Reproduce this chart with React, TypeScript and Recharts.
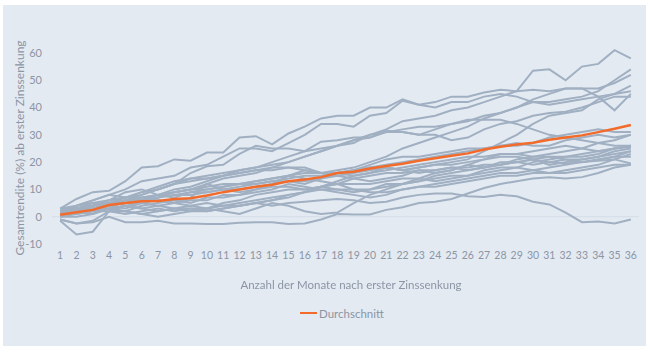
import React from "react";
import { LineChart, Line, XAxis, YAxis, ReferenceLine } from "recharts";

// Monate nach erster Zinssenkung
const monate = [1, 2, 3, 4, 5, 6, 7, 8, 9, 10, 11, 12, 13, 14, 15, 16, 17, 18, 19, 20, 21, 22, 23, 24, 25, 26, 27, 28, 29, 30, 31, 32, 33, 34, 35, 36];
const yTicks = [-10, 0, 10, 20, 30, 40, 50, 60];

const durchschnitt = [0.7, 1.6, 2.5, 4.3, 5, 5.7, 5.8, 6.5, 6.8, 7.8, 9, 10, 11, 11.7, 13, 13.6, 14.5, 16, 16.5, 17.7, 18.6, 19.4, 20.5, 21.4, 22.3, 23.2, 24.6, 25.6, 26.5, 27.1, 28.2, 29, 29.8, 31, 32.2, 33.6];

// einzelne Zinssenkungszyklen
const z01 = [3, 6.5, 9, 9.5, 13, 18, 18.5, 21, 20.5, 23.5, 23.5, 29, 29.5, 26.5, 30.5, 33, 36, 37, 37, 40, 40, 43, 41, 42, 44, 44, 45.5, 46.5, 46, 46.5, 46, 47, 47, 44, 39, 45];
const z02 = [1, 2, 3, 5, 7, 8, 10, 12, 14, 15, 16, 17, 18, 20, 22, 24, 25, 26, 27, 30, 32, 35, 36, 37, 39, 40, 42, 44, 46, 53.5, 54, 50, 55, 56, 61, 58];
const z03 = [2, 4, 6, 8, 10, 13, 14, 15, 18, 19, 22, 25, 25, 24, 27, 30, 34, 34, 33, 37, 38, 42.5, 41, 40, 42, 42, 44, 45, 44, 42, 42, 43, 44, 46, 50, 54];
const z04 = [1, 3, 4, 6, 7, 9, 10, 12, 13, 14, 15, 17, 18, 19, 20, 22, 24, 26, 28, 29, 31, 32, 33, 33, 34, 35, 37, 38, 40, 43, 45, 47, 47, 47, 49, 52];
const z05 = [0, 2, 3, 4, 5, 5, 7, 8, 8, 9, 10, 10, 11, 12, 13, 13, 14, 15, 16, 17, 18, 17, 18, 19, 20, 21, 24, 27, 30, 34, 37, 38, 39, 43, 45, 48];
const z06 = [2, 3, 4, 5, 6, 8, 10, 12, 16, 18.5, 19, 23, 26, 25, 25, 24, 27.5, 28, 29, 29, 31.5, 31, 30, 30, 28, 29, 32, 34, 35, 37, 38, 38.5, 40, 42, 44, 44];
const z07 = [1, 2, 3, 4, 5, 6, 7, 9, 10, 12, 14, 15, 16, 18, 20, 22, 24, 26, 28, 30, 31, 31, 30, 32, 34, 35.5, 35.5, 35.5, 34, 32, 30, 29, 28, 27, 26, 26];
const z08 = [2, 3, 5, 6, 7, 7, 8, 9, 10, 11, 12, 12, 13, 14, 15, 16, 16, 16, 17, 18, 19, 20, 21, 22, 23, 24, 25, 26, 26, 27, 29, 30, 31, 32, 31, 31];
const z09 = [0, 1, 2, 4, 5, 6, 8, 9, 10, 10, 11, 12, 12, 13, 14, 15, 15, 16, 15, 16, 17, 18, 19, 20, 21, 22, 22, 23, 23, 22, 23, 24, 25, 27, 28, 30];
const z10 = [3, 3, 2, 3, 4, 3, 4, 5, 6, 6, 8, 8, 9, 10, 12, 11, 10, 10, 9, 10, 12, 12, 13, 14, 15, 15, 17, 18, 18, 20, 21, 22, 22, 23, 25, 26];
const z11 = [1, 2, 1, 3, 2, 4, 5, 6, 5, 7, 7, 8, 10, 11, 11, 10, 11, 12, 14, 15, 16, 16, 17, 17, 18, 18, 19, 19, 20, 21, 22, 22, 23, 24, 25, 25.5];
const z12 = [2, 1, 3, 4, 6, 7, 6, 5, 7, 12, 10, 9, 10, 12, 15, 17, 16, 15, 14, 13, 14, 15, 17, 16, 17, 19, 18, 20, 20, 21, 20, 21, 21, 22, 23, 24];
const z13 = [0, 0, 1, 3, 4, 3, 2, 3, 4, 5, 4, 5, 6, 7, 8, 9, 10, 9, 8, 7, 8, 10, 11, 12, 13, 14, 15, 16, 16, 17, 18, 19, 20, 21, 22, 22];
const z14 = [-1, -2.5, -1.5, 2, 1, 2, 3, 2, 3, 2, 3, 4, 5, 6, 8, 9, 11, 13, 15, 16, 18, 17, 16, 17, 18, 17, 18, 19, 20, 19, 20, 19.5, 20, 20.5, 21, 19.5];
const z15 = [-1.5, -6.5, -5.5, 2, 4, 5, 4, 3, 2, 2, 3, 4, 5, 6, 7, 9, 11, 12, 12, 12, 13, 14, 14, 13, 14, 15, 16, 17, 18, 17, 16, 16, 17, 18, 19, 19];
const z16 = [1, 4, 5, 4, 3, 5, 6, 5, 4, 3, 2, 1, 3, 5, 4, 2, 1, 1.5, 5, 8, 10, 12, 14, 16, 17, 19, 21, 22, 22, 21, 19, 20, 21, 22, 24, 25];
const z17 = [2, 3, 4, 6, 9, 10, 8, 7, 9, 10, 11, 12, 13, 14, 15, 14, 13, 12, 10, 9, 9, 10, 11, 11, 12, 13, 14, 15, 15, 16, 16, 17, 18, 19, 21, 23];
const z18 = [3, 3, 3, 3, 2, 1, 0, 1, 2, 3, 5, 6, 8, 9, 10, 10, 11, 10, 10, 10, 11, 12, 13, 15, 16, 17, 18, 19, 21, 22, 22, 21, 20, 21, 22, 24];
const z19 = [-1, -2.5, -2, 0, -2, -2, -1.5, -2.5, -2.5, -2.7, -2.7, -2.2, -2, -2, -2.7, -2.5, -1, 1, 0.8, 0.8, 2.5, 3.5, 5, 5.5, 6.5, 8.5, 10.5, 12, 13, 14, 14.5, 14, 14.5, 16, 18, 19];
const z20 = [1, 1, 2, 2, 2, 1, 2, 3, 3, 3, 4, 4, 5, 4, 5, 5.5, 6, 6.5, 6, 5, 5.5, 7, 8, 8.5, 8.5, 7.5, 7.2, 8, 7.5, 5.5, 4.5, 1.5, -2, -1.8, -2.5, -1];
const z21 = [3, 4, 6, 8, 7, 9, 11, 13, 14, 14, 15, 16, 17, 17, 18, 18, 16, 16, 17, 19, 21, 22, 22, 23, 24, 25, 25, 26, 27, 26, 26, 28, 29, 30, 29, 30];
const z22 = [0.5, 2, 4, 5, 6, 6, 7, 8, 9, 9, 10, 11, 12, 13, 13, 12, 14, 16, 17, 18, 18, 17, 18, 19, 19, 20, 21, 23, 23, 24, 25, 26, 25, 24, 25, 26];
const z23 = [2, 2, 3, 4, 5, 7, 8, 10, 11, 13, 15, 16, 17, 18, 18, 17, 16, 17, 18, 20, 22, 25, 27, 29, 31, 33, 36, 38, 40, 42, 41, 42, 43, 44, 45, 46];

const zyklen = [z01, z02, z03, z04, z05, z06, z07, z08, z09, z10, z11, z12, z13, z14, z15, z16, z17, z18, z19, z20, z21, z22, z23];

const chartData = monate.map((m, i) => {
  const row: Record<string, number> = { monat: m, avg: durchschnitt[i] };
  zyklen.forEach((z, k) => {
    row[`z${k}`] = z[i];
  });
  return row;
});

const GRAY = "#a0b0c2";
const ORANGE = "#f26b2b";
const TEXT = "#8b95a4";
const FONT = "Lato, 'Noto Sans', sans-serif";

export default function App() {
  return (
    <div style={{ position: "fixed", left: 0, top: 0, width: 650, height: 352, background: "#fff", fontFamily: FONT }}>
      <div style={{ position: "absolute", left: 3, top: 5, width: 643, height: 341, background: "#e4eaf2" }} />
      <LineChart
        width={650}
        height={352}
        data={chartData}
        margin={{ top: 47.5, right: 11, bottom: 78, left: 0 }}
        style={{ position: "absolute", left: 0, top: 0 }}
      >
        <XAxis
          dataKey="monat"
          type="number"
          domain={[0.5, 36.5]}
          ticks={monate}
          interval={0}
          height={30}
          axisLine={false}
          tickLine={false}
          tick={{ fontSize: 10.5, fill: TEXT, fontFamily: FONT }}
        />
        <YAxis
          type="number"
          domain={[-10, 62]}
          ticks={yTicks}
          width={52}
          axisLine={false}
          tickLine={false}
          tickMargin={4}
          allowDataOverflow
          tick={{ fontSize: 11, fill: TEXT, fontFamily: FONT }}
        />
        <ReferenceLine y={0} stroke="#d3dce7" strokeWidth={1} />
        {zyklen.map((_, k) => (
          <Line
            key={k}
            dataKey={`z${k}`}
            type="linear"
            stroke={GRAY}
            strokeWidth={2}
            dot={false}
            activeDot={false}
            isAnimationActive={false}
          />
        ))}
        <Line dataKey="avg" name="Durchschnitt" type="linear" stroke={ORANGE} strokeWidth={2.5} dot={false} isAnimationActive={false} />
      </LineChart>
      <div
        style={{
          position: "absolute",
          left: 20 - 130,
          top: 148 - 8,
          width: 260,
          height: 16,
          lineHeight: "16px",
          textAlign: "center",
          transform: "rotate(-90deg)",
          fontSize: 12,
          color: TEXT,
        }}
      >
        Gesamtrendite (%) ab erster Zinssenkung
      </div>
      <div style={{ position: "absolute", left: 0, width: 702, top: 277, lineHeight: "16px", textAlign: "center", fontSize: 11.5, color: TEXT }}>
        Anzahl der Monate nach erster Zinssenkung
      </div>
      <div style={{ position: "absolute", left: 300, top: 305, height: 16, display: "flex", alignItems: "center", fontSize: 11.5, color: TEXT }}>
        <span style={{ display: "inline-block", width: 17, height: 2.5, background: ORANGE, marginRight: 2 }} />
        Durchschnitt
      </div>
    </div>
  );
}
